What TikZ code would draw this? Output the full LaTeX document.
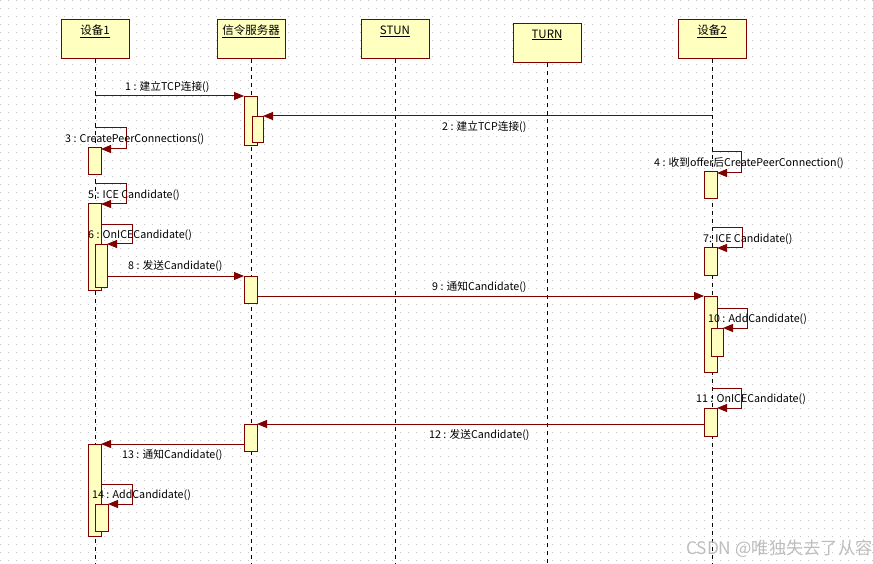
\documentclass[tikz,border=0pt]{standalone}
\usepackage{fontspec}
\setmainfont{Noto Sans CJK SC}
\usetikzlibrary{arrows.meta}
\definecolor{dred}{HTML}{800000}
\definecolor{actfill}{HTML}{FFFFC0}
\definecolor{dotc}{HTML}{C4C4C4}
\definecolor{wmark}{HTML}{BDBDBD}
\tikzset{
  hdr/.style={draw=dred, fill=actfill, line width=1pt, inner sep=0pt, outer sep=0pt, minimum width=68pt, minimum height=39pt, anchor=north},
  hdrtext/.style={inner sep=0pt, font=\fontsize{11.5}{12}\selectfont, anchor=center},
  life/.style={draw=black, line width=1pt, dash pattern=on 4pt off 4pt},
  actbox/.style={draw=dred, fill=actfill, line width=1pt, inner sep=0pt, outer sep=0pt, anchor=north west, minimum width=13pt},
  msg/.style={draw=dred, line width=1pt, -{Triangle[length=10pt,width=8pt]}},
  lbl/.style={inner sep=0pt, anchor=west, font=\fontsize{10.7}{11}\selectfont},
}
\begin{document}
\begin{tikzpicture}[x=1pt,y=-1pt]
\useasboundingbox (0,0) rectangle (873,564);
\fill[white] (0,0) rectangle (873,564);
% dot grid
\foreach \i in {0,...,109}{\foreach \j in {0,...,70}{\fill[dotc] (\i*8,\j*8) rectangle ++(1,1);}}
% headers
\node[hdr] (h1) at (95,20) {};
\node[hdr] (h2) at (251,20) {};
\node[hdr] (h3) at (395,20) {};
\node[hdr] (h4) at (547,24) {};
\node[hdr] (h5) at (712,20) {};
\node[hdrtext] (t1) at (95,31) {\underline{设备1}};
\node[hdrtext] (t2) at (251,31) {\underline{信令服务器}};
\node[hdrtext] (t3) at (395,31) {\underline{STUN}};
\node[hdrtext] (t4) at (547,35) {\underline{TURN}};
\node[hdrtext] (t5) at (712,31) {\underline{设备2}};
% lifelines
\coordinate (e1) at (95,564); \coordinate (e2) at (251,564); \coordinate (e3) at (395,564);
\coordinate (e4) at (547,564); \coordinate (e5) at (712,564);
\draw[life] (h1.south) -- (e1);
\draw[life] (h2.south) -- (e2);
\draw[life] (h3.south) -- (e3);
\draw[life] (h4.south) -- (e4);
\draw[life] (h5.south) -- (e5);
% activations device 1
\node[actbox, minimum height=27pt] (aA) at (88,148) {};
\node[actbox, minimum height=86pt] (aB) at (88,204) {};
\node[actbox, minimum height=42pt, minimum width=12pt] (aC) at (95,245) {};
\node[actbox, minimum height=92pt] (aD) at (88,444) {};
\node[actbox, minimum height=27pt] (aE) at (95,504) {};
% server
\node[actbox, minimum height=49pt] (sA) at (244,97) {};
\node[actbox, minimum height=26pt, minimum width=11pt] (sB) at (252,117) {};
\node[actbox, minimum height=27pt] (sC) at (244,276) {};
\node[actbox, minimum height=27pt] (sD) at (244,424) {};
% device 2
\node[actbox, minimum height=27pt] (bA) at (704,172) {};
\node[actbox, minimum height=27pt] (bB) at (704,248) {};
\node[actbox, minimum height=76pt] (bC) at (704,296) {};
\node[actbox, minimum height=28pt, minimum width=12pt] (bD) at (711,328) {};
\node[actbox, minimum height=28pt] (bE) at (704,408) {};
% messages
\coordinate (m1) at (95,96);
\draw[msg] (m1) -- (m1 -| sA.west);
\coordinate (m2) at (712,116);
\draw[msg] (m2) -- (m2 -| sB.east);
\coordinate (m3) at (95,128);
\draw[msg] (m3) -- ++(31,0) -- ++(0,21) coordinate (m3b) -- (m3b -| aA.east);
\coordinate (m4) at (712,152);
\draw[msg] (m4) -- ++(29,0) -- ++(0,21) coordinate (m4b) -- (m4b -| bA.east);
\coordinate (m5) at (95,184);
\draw[msg] (m5) -- ++(31,0) -- ++(0,20) coordinate (m5b) -- (m5b -| aB.east);
\coordinate (m6) at (aB.east |- 0,225);
\draw[msg] (m6) -- ++(31,0) -- ++(0,19) coordinate (m6b) -- (m6b -| aC.east);
\coordinate (m7) at (712,228);
\draw[msg] (m7) -- ++(30,0) -- ++(0,20) coordinate (m7b) -- (m7b -| bB.east);
\coordinate (m8) at (aC.east |- 0,276);
\draw[msg] (m8) -- (m8 -| sC.west);
\coordinate (m9) at (sC.east |- 0,296);
\draw[msg] (m9) -- (m9 -| bC.west);
\coordinate (m10) at (bC.east |- 0,308);
\draw[msg] (m10) -- ++(30,0) -- ++(0,20) coordinate (m10b) -- (m10b -| bD.east);
\coordinate (m11) at (712,388);
\draw[msg] (m11) -- ++(29,0) -- ++(0,20) coordinate (m11b) -- (m11b -| bE.east);
\coordinate (m12) at (bE.west |- 0,424);
\draw[msg] (m12) -- (m12 -| sD.east);
\coordinate (m13) at (sD.west |- 0,444);
\draw[msg] (m13) -- (m13 -| aD.east);
\coordinate (m14) at (aD.east |- 0,484);
\draw[msg] (m14) -- ++(31,0) -- ++(0,20) coordinate (m14b) -- (m14b -| aE.east);
% labels
\node[lbl] (l1) at (125,87) {1 : 建立TCP连接()};
\node[lbl] (l2) at (442,127) {2 : 建立TCP连接()};
\node[lbl] (l3) at (65,139) {3 : CreatePeerConnections()};
\node[lbl] (l4) at (654,163) {4 : 收到offer后CreatePeerConnection()};
\node[lbl] (l5) at (88,195) {5 : ICE Candidate()};
\node[lbl] (l6) at (88,235) {6 : OnICECandidate()};
\node[lbl] (l7) at (703,239) {7: ICE Candidate()};
\node[lbl] (l8) at (128,266) {8 : 发送Candidate()};
\node[lbl] (l9) at (432,287) {9 : 通知Candidate()};
\node[lbl] (l10) at (708,319) {10 : AddCandidate()};
\node[lbl] (l11) at (696,399) {11 : OnICECandidate()};
\node[lbl] (l12) at (429,435) {12 : 发送Candidate()};
\node[lbl] (l13) at (122,455) {13 : 通知Candidate()};
\node[lbl] (l14) at (92,495) {14 : AddCandidate()};
\node[lbl, text=wmark, font=\fontsize{17.3}{18}\selectfont] (wm) at (686,549) {CSDN @唯独失去了从容};
\end{tikzpicture}
\end{document}
